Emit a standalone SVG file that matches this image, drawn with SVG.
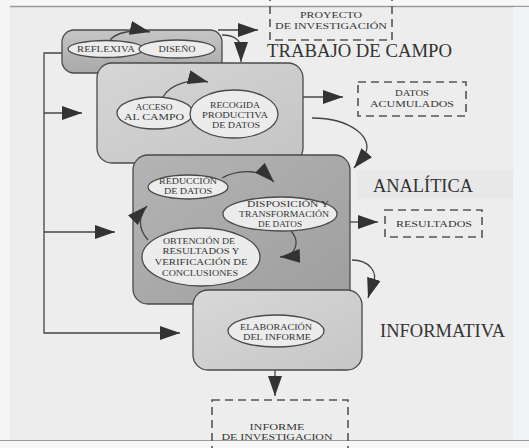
<svg xmlns="http://www.w3.org/2000/svg" width="529" height="448" viewBox="0 0 529 448">
<defs>
<marker id="ah" markerUnits="userSpaceOnUse" markerWidth="20" markerHeight="14" refX="20" refY="7" orient="auto">
<path d="M0,0 L20,7 L0,14 z" fill="#333"/>
</marker>
<linearGradient id="g1" x1="0" y1="0" x2="0" y2="1"><stop offset="0" stop-color="#c6c6c6"/><stop offset="1" stop-color="#a8a8a8"/></linearGradient>
<linearGradient id="g2" x1="0" y1="0" x2="1" y2="1"><stop offset="0" stop-color="#d6d6d6"/><stop offset="1" stop-color="#c4c4c4"/></linearGradient>
<linearGradient id="g3" x1="0" y1="0" x2="1" y2="1"><stop offset="0" stop-color="#b4b4b4"/><stop offset="1" stop-color="#9e9e9e"/></linearGradient>
<linearGradient id="g4" x1="0" y1="0" x2="1" y2="1"><stop offset="0" stop-color="#d8d8d8"/><stop offset="1" stop-color="#c6c6c6"/></linearGradient>
</defs>
<style>
.box{stroke:#4a4a4a;stroke-width:1.3}
.ell{fill:#ececec;stroke:#4a4a4a;stroke-width:1.3}
.dash{fill:none;stroke:#555;stroke-width:1.6;stroke-dasharray:8,5}
.con{fill:none;stroke:#444;stroke-width:1.3}
.lbl{font-family:'Liberation Serif','DejaVu Serif',serif;font-size:8px;fill:#333;text-anchor:middle}
.ttl{font-family:'Liberation Serif','DejaVu Serif',serif;font-size:18px;fill:#333}
</style>
<rect width="529" height="448" fill="#ededed"/>
<rect x="0" y="0" width="529" height="6" fill="#f7f7f7"/>
<line x1="10" y1="6.5" x2="529" y2="6.5" stroke="#9a9a9a" stroke-width="1.5"/>
<rect x="0" y="0" width="10" height="448" fill="#f5f5f5"/>
<rect x="513" y="7" width="16" height="434" fill="#f1f3f5"/>
<rect x="0" y="441" width="529" height="7" fill="#f6f6f6"/>
<line x1="0" y1="440.5" x2="529" y2="440.5" stroke="#9a9a9a" stroke-width="1.2"/>
<rect x="357" y="170" width="156" height="29" fill="#e8e8e8"/>

<g id="connectors">
<polyline class="con" points="63,53 44,53 44,333 180,333" marker-end="url(#ah)"/>
<path class="con" d="M44,113 L82,113" marker-end="url(#ah)"/>
<path class="con" d="M44,232 L115,232" marker-end="url(#ah)"/>
<path class="con" d="M218,30 L258,30" marker-end="url(#ah)"/>
<path class="con" d="M222,35 C236,35 241,42 241,48 L241,62" marker-end="url(#ah)"/>
<path class="con" d="M303,97 L343,97" marker-end="url(#ah)"/>
<path class="con" d="M312,118 C350,118 376,138 364,156 L354,168" marker-end="url(#ah)"/>
<path class="con" d="M350,222 L378,222" marker-end="url(#ah)"/>
<path class="con" d="M352,260 C368,260 380,272 372,285 L368,298" marker-end="url(#ah)"/>
<path class="con" d="M275,370 L275,396" marker-end="url(#ah)"/>
</g>

<g id="n-preparatoria">
<rect class="box" x="62" y="30" width="160" height="43" rx="12" fill="url(#g1)"/>
</g>
<g id="n-campo">
<rect class="box" x="97" y="63" width="206" height="100" rx="15" fill="url(#g2)"/>
</g>
<g id="n-analitica">
<rect class="box" x="133" y="155" width="217" height="149" rx="15" fill="url(#g3)"/>
</g>
<g id="n-informativa">
<rect class="box" x="193" y="290" width="169" height="80" rx="15" fill="url(#g4)"/>
</g>

<g id="n-reflexiva">
<ellipse class="ell" cx="106" cy="49" rx="38" ry="8.5"/>
<text class="lbl" x="106" y="52" textLength="58" lengthAdjust="spacingAndGlyphs">REFLEXIVA</text>
</g>
<g id="n-diseno">
<ellipse class="ell" cx="177" cy="49" rx="38" ry="9"/>
<text class="lbl" x="177" y="52" textLength="37" lengthAdjust="spacingAndGlyphs">DISEÑO</text>
</g>
<path class="con" d="M110,41 C114,32 136,29 150,32" marker-end="url(#ah)"/>

<g id="n-acceso">
<ellipse class="ell" cx="155" cy="113" rx="38" ry="16"/>
<text class="lbl" x="154" y="110" textLength="37" lengthAdjust="spacingAndGlyphs">ACCESO</text>
<text class="lbl" x="154" y="120" textLength="60" lengthAdjust="spacingAndGlyphs">AL CAMPO</text>
</g>
<g id="n-recogida">
<ellipse class="ell" cx="234" cy="114" rx="44" ry="24"/>
<text class="lbl" x="235" y="108" textLength="50" lengthAdjust="spacingAndGlyphs">RECOGIDA</text>
<text class="lbl" x="235" y="118" textLength="66" lengthAdjust="spacingAndGlyphs">PRODUCTIVA</text>
<text class="lbl" x="236" y="128" textLength="48" lengthAdjust="spacingAndGlyphs">DE DATOS</text>
</g>
<path class="con" d="M163,97 C170,84 192,78 208,82" marker-end="url(#ah)"/>

<g id="n-reduccion">
<ellipse class="ell" cx="188" cy="187" rx="40" ry="12"/>
<text class="lbl" x="188" y="184" textLength="58" lengthAdjust="spacingAndGlyphs">REDUCCIÓN</text>
<text class="lbl" x="188" y="194" textLength="48" lengthAdjust="spacingAndGlyphs">DE DATOS</text>
</g>
<g id="n-disposicion">
<ellipse class="ell" cx="280" cy="214" rx="57" ry="17"/>
<text class="lbl" x="288" y="207" textLength="82" lengthAdjust="spacingAndGlyphs">DISPOSICIÓN Y</text>
<text class="lbl" x="284" y="217" textLength="90" lengthAdjust="spacingAndGlyphs">TRANSFORMACIÓN</text>
<text class="lbl" x="280" y="227" textLength="44" lengthAdjust="spacingAndGlyphs">DE DATOS</text>
</g>
<g id="n-obtencion">
<ellipse class="ell" cx="201" cy="257" rx="59" ry="29"/>
<text class="lbl" x="199" y="244" textLength="72" lengthAdjust="spacingAndGlyphs">OBTENCIÓN DE</text>
<text class="lbl" x="201" y="254" textLength="77" lengthAdjust="spacingAndGlyphs">RESULTADOS Y</text>
<text class="lbl" x="201" y="265" textLength="93" lengthAdjust="spacingAndGlyphs">VERIFICACIÓN DE</text>
<text class="lbl" x="200" y="276" textLength="76" lengthAdjust="spacingAndGlyphs">CONCLUSIONES</text>
</g>
<path class="con" d="M222,178 C240,168 262,170 274,182" marker-end="url(#ah)"/>
<path class="con" d="M291,231 C300,241 297,256 280,257" marker-end="url(#ah)"/>
<path class="con" d="M148,240 C137,228 139,214 147,206" marker-end="url(#ah)"/>

<g id="n-elaboracion">
<ellipse class="ell" cx="276" cy="331" rx="48" ry="16"/>
<text class="lbl" x="276" y="330" textLength="72" lengthAdjust="spacingAndGlyphs">ELABORACIÓN</text>
<text class="lbl" x="277" y="340" textLength="68" lengthAdjust="spacingAndGlyphs">DEL INFORME</text>
</g>

<g id="n-proyecto">
<rect class="dash" x="270" y="-2" width="122" height="42"/>
<text class="lbl" x="331" y="18" textLength="62" lengthAdjust="spacingAndGlyphs">PROYECTO</text>
<text class="lbl" x="331" y="29" textLength="112" lengthAdjust="spacingAndGlyphs">DE INVESTIGACIÓN</text>
</g>
<g id="n-datos">
<rect class="dash" x="358" y="82" width="108" height="34"/>
<text class="lbl" x="412" y="96" textLength="34" lengthAdjust="spacingAndGlyphs">DATOS</text>
<text class="lbl" x="412" y="107" textLength="84" lengthAdjust="spacingAndGlyphs">ACUMULADOS</text>
</g>
<g id="n-resultados">
<rect class="dash" x="385" y="210" width="97" height="27"/>
<text class="lbl" x="434" y="227" textLength="76" lengthAdjust="spacingAndGlyphs">RESULTADOS</text>
</g>
<g id="n-informe">
<rect class="dash" x="212" y="400" width="136" height="60"/>
<text class="lbl" x="277" y="430" textLength="55" lengthAdjust="spacingAndGlyphs">INFORME</text>
<text class="lbl" x="277" y="440" textLength="111" lengthAdjust="spacingAndGlyphs">DE INVESTIGACION</text>
</g>

<g id="titles">
<text class="ttl" x="267" y="57" textLength="185" lengthAdjust="spacingAndGlyphs">TRABAJO DE CAMPO</text>
<text class="ttl" x="373" y="192" textLength="100" lengthAdjust="spacingAndGlyphs">ANALÍTICA</text>
<text class="ttl" x="380" y="337" textLength="125" lengthAdjust="spacingAndGlyphs">INFORMATIVA</text>
</g>
</svg>
